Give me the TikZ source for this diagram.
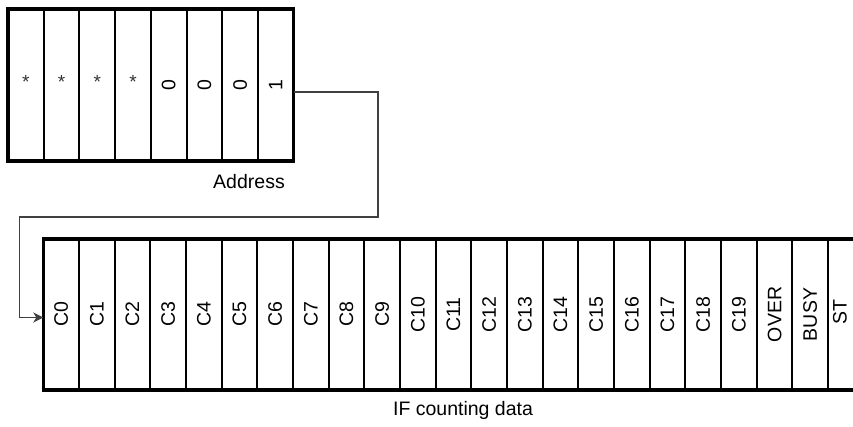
\documentclass[tikz,border=0pt]{standalone}
\usepackage{fontspec}
\setmainfont{Liberation Sans}
\usetikzlibrary{arrows.meta,fit}
\begin{document}
\begin{tikzpicture}[x=1pt,y=-1pt,
  cellbox/.style={draw=black, line width=2pt, minimum width=35.7pt, inner sep=0pt, outer sep=0pt},
  celltext/.style={rotate=90, font=\fontsize{19.5}{19.5}\selectfont, inner sep=0pt},
  startext/.style={font=\fontsize{19}{19}\selectfont, inner sep=0pt, text=black!80},
  frame/.style={draw=black, line width=3.2pt, inner sep=0pt, outer sep=0pt},
  lbl/.style={font=\fontsize{19.5}{19.5}\selectfont, inner sep=0pt, anchor=base},
  conn/.style={draw=black!75, line width=1.1pt}]
\useasboundingbox (0,0) rectangle (853,427);
\clip (0,0) rectangle (853,427);
% top register (Address)
\foreach \i/\t in {0/*,1/*,2/*,3/*} {
  \node[cellbox, minimum height=152pt] (t\i) at ({8+35.7*(\i+0.5)},85) {};
  \node[startext] (tt\i) at ({8+35.7*(\i+0.5)},82) {\t};
}
\foreach \i/\t in {4/0,5/0,6/0,7/1} {
  \node[cellbox, minimum height=152pt] (t\i) at ({8+35.7*(\i+0.5)},85) {};
  \node[celltext] (tt\i) at (t\i) {\t};
}
\node[frame, fit=(t0)(t7)] (atop) {};
\node[lbl] (addr) at (249,189) {Address};
% bottom register (IF counting data)
\foreach \i in {0,...,22} {
  \node[cellbox, minimum height=151pt] (b\i) at ({43.3+35.67*(\i+0.5)},314.5) {};
}
\node[frame, fit=(b0)(b22)] (abot) {};
\foreach \i/\t in {0/C0,1/C1,2/C2,3/C3,4/C4,5/C5,6/C6,7/C7,8/C8,9/C9,10/C10,11/C11,12/C12,13/C13,14/C14,15/C15,16/C16,17/C17,18/C18,19/C19,20/OVER,21/BUSY} {
  \node[celltext] (bt\i) at (b\i) {\t};
}
\node[celltext] (bt22) at (840,312) {ST};
\node[lbl] (ifc) at (463,415.7) {IF counting data};
% connector
\coordinate (c1) at (378,92);
\coordinate (c2) at (378,217);
\coordinate (c3) at (19.5,217);
\coordinate (c4) at (19.5,317.5);
\draw[conn, -{Stealth[length=10pt, width=10pt, inset=3pt]}]
  ([yshift=-7pt]atop.east) -- (c1) -- (c2) -- (c3) -- (c4) -- ([yshift=-3pt]abot.west);
\end{tikzpicture}
\end{document}
